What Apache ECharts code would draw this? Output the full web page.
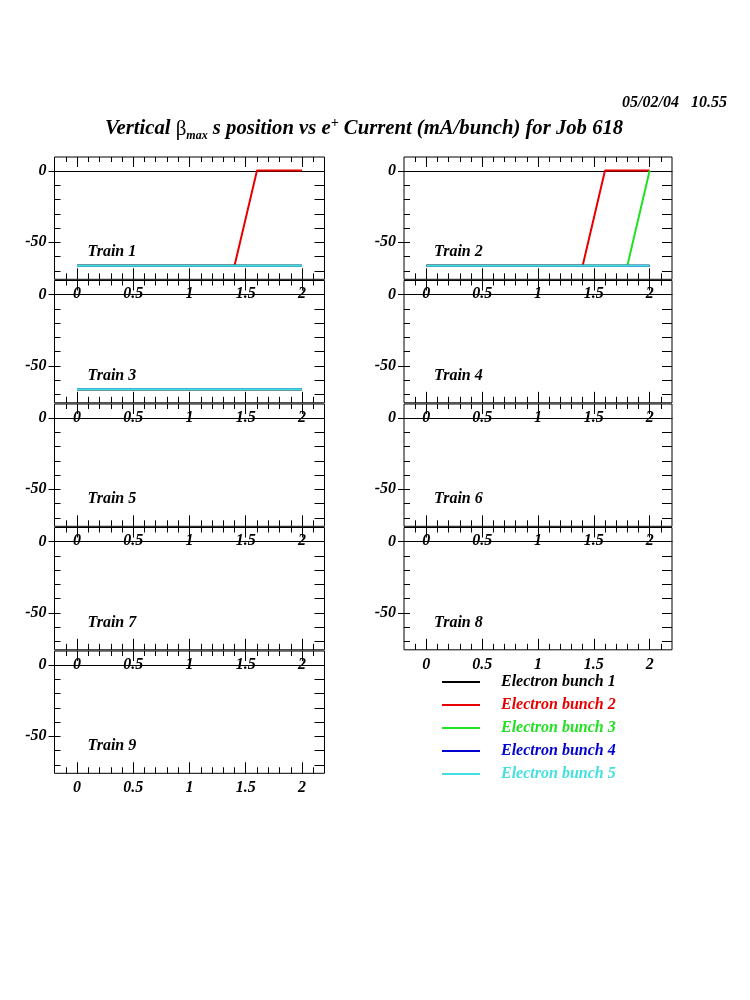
<!DOCTYPE html>
<html><head><meta charset="utf-8">
<script src="https://cdn.jsdelivr.net/npm/echarts@6/dist/echarts.min.js"></script>
<style>html,body{margin:0;padding:0;background:#fff}#c{width:750px;height:1000px}</style>
</head><body><div id="c"></div>
<script>
// ---- data ----
const currents = [0, 0.2, 0.4, 0.6, 0.8, 1.0, 1.2, 1.4, 1.6, 1.8, 2.0];
const bunchNames = ['Electron bunch 1', 'Electron bunch 2', 'Electron bunch 3', 'Electron bunch 4', 'Electron bunch 5'];
const bunchColors = ['#000000', '#e80000', '#22e022', '#0000d0', '#44e0e0'];
const trainNames = ['Train 1', 'Train 2', 'Train 3', 'Train 4', 'Train 5', 'Train 6', 'Train 7', 'Train 8', 'Train 9'];
// vertical beta_max s position per bunch (one list per bunch, values at each current)
const train1 = [
  [-66.4, -66.4, -66.4, -66.4, -66.4, -66.4, -66.4, -66.4, -66.4, -66.4, -66.4],
  [-66.4, -66.4, -66.4, -66.4, -66.4, -66.4, -66.4, -66.4, 0.5, 0.5, 0.5],
  [-66.4, -66.4, -66.4, -66.4, -66.4, -66.4, -66.4, -66.4, -66.4, -66.4, -66.4],
  [-66.4, -66.4, -66.4, -66.4, -66.4, -66.4, -66.4, -66.4, -66.4, -66.4, -66.4],
  [-66.4, -66.4, -66.4, -66.4, -66.4, -66.4, -66.4, -66.4, -66.4, -66.4, -66.4]
];
const train2 = [
  [-66.4, -66.4, -66.4, -66.4, -66.4, -66.4, -66.4, -66.4, -66.4, -66.4, -66.4],
  [-66.4, -66.4, -66.4, -66.4, -66.4, -66.4, -66.4, -66.4, 0.5, 0.5, 0.5],
  [-66.4, -66.4, -66.4, -66.4, -66.4, -66.4, -66.4, -66.4, -66.4, -66.4, 0.5],
  [-66.4, -66.4, -66.4, -66.4, -66.4, -66.4, -66.4, -66.4, -66.4, -66.4, -66.4],
  [-66.4, -66.4, -66.4, -66.4, -66.4, -66.4, -66.4, -66.4, -66.4, -66.4, -66.4]
];
const train3 = [
  [-66.4, -66.4, -66.4, -66.4, -66.4, -66.4, -66.4, -66.4, -66.4, -66.4, -66.4],
  [-66.4, -66.4, -66.4, -66.4, -66.4, -66.4, -66.4, -66.4, -66.4, -66.4, -66.4],
  [-66.4, -66.4, -66.4, -66.4, -66.4, -66.4, -66.4, -66.4, -66.4, -66.4, -66.4],
  [-66.4, -66.4, -66.4, -66.4, -66.4, -66.4, -66.4, -66.4, -66.4, -66.4, -66.4],
  [-66.4, -66.4, -66.4, -66.4, -66.4, -66.4, -66.4, -66.4, -66.4, -66.4, -66.4]
];
const train4 = [[], [], [], [], []];
const train5 = [[], [], [], [], []];
const train6 = [[], [], [], [], []];
const train7 = [[], [], [], [], []];
const train8 = [[], [], [], [], []];
const train9 = [[], [], [], [], []];
const trains = [train1, train2, train3, train4, train5, train6, train7, train8, train9];

const xMajorTicks = [0, 0.5, 1, 1.5, 2];
const xMinorTicks = [-0.1, 0.1, 0.2, 0.3, 0.4, 0.6, 0.7, 0.8, 0.9, 1.1, 1.2, 1.3, 1.4, 1.6, 1.7, 1.8, 1.9, 2.1];
const yTicks = [-70, -60, -50, -40, -30, -20, -10, 0];
const yLabelTicks = [-50, 0];

// ---- chart ----
const FONT = 'Liberation Serif';
const txt = { fontFamily: FONT, fontWeight: 'bold', fontStyle: 'italic', color: '#000' };
const grids = [], xAxes = [], yAxes = [], series = [], titles = [];

titles.push({
  text: '{a|Vertical }{g|β}{s|max}{a| s position vs e}{p|+}{a| Current (mA/bunch) for Job 618}',
  left: 100, top: 111,
  textStyle: {
    rich: {
      a: Object.assign({}, txt, { fontSize: 20.7, lineHeight: 26 }),
      g: { fontFamily: FONT, fontWeight: 'normal', fontStyle: 'normal', fontSize: 21, lineHeight: 26, color: '#000' },
      s: Object.assign({}, txt, { fontSize: 12, lineHeight: 12, verticalAlign: 'bottom' }),
      p: Object.assign({}, txt, { fontSize: 14, lineHeight: 8, verticalAlign: 'top' })
    }
  }
});
titles.push({ text: '05/02/04   10.55', right: 18, top: 90, textStyle: Object.assign({}, txt, { fontSize: 16 }) });

for (let g = 0; g < 9; g++) {
  const col = g % 2, row = Math.floor(g / 2);
  const left = col ? 404 : 54.5;
  const width = col ? 268 : 270;
  const top = 157 + row * 123.5;
  const height = 122.3;
  grids.push({ left, top, width, height, show: true, borderColor: '#000', borderWidth: 1, backgroundColor: 'transparent', outerBoundsMode: 'none' });

  const xb = { type: 'value', gridIndex: g, min: -0.2, max: 2.2, splitLine: { show: false }, axisLine: { show: false, onZero: false } };
  const tk = (len, vals, inside) => ({ show: true, inside: inside !== false, length: len, customValues: vals, lineStyle: { color: '#000', width: 1 } });
  xAxes.push(Object.assign({}, xb, { position: 'bottom', axisTick: tk(11, xMajorTicks),
    axisLabel: Object.assign({ show: true, customValues: xMajorTicks, margin: 7, fontSize: 16 }, txt) }));
  xAxes.push(Object.assign({}, xb, { position: 'bottom', axisTick: tk(6, xMinorTicks), axisLabel: { show: false } }));
  xAxes.push(Object.assign({}, xb, { position: 'top', axisTick: tk(10, xMajorTicks), axisLabel: { show: false } }));
  xAxes.push(Object.assign({}, xb, { position: 'top', axisTick: tk(5, xMinorTicks), axisLabel: { show: false } }));
  xAxes.push(Object.assign({}, xb, { position: 'bottom', axisTick: { show: false }, axisLabel: { show: false },
    axisLine: { show: true, onZero: true, onZeroAxisIndex: g * 3, lineStyle: { color: '#000', width: 1 } } }));

  const yb = { type: 'value', gridIndex: g, min: -76, max: 10, splitLine: { show: false }, axisLine: { show: false, onZero: false } };
  yAxes.push(Object.assign({}, yb, { position: 'left', axisTick: tk(6, yTicks),
    axisLabel: Object.assign({ show: true, customValues: yLabelTicks, margin: 8, fontSize: 16 }, txt) }));
  yAxes.push(Object.assign({}, yb, { position: 'left', axisTick: tk(6, yLabelTicks, false), axisLabel: { show: false } }));
  yAxes.push(Object.assign({}, yb, { position: 'right', axisTick: tk(10, yTicks), axisLabel: { show: false } }));

  titles.push({ text: trainNames[g], left: left + (col ? 25 : 28), top: top + 82,
    textStyle: Object.assign({}, txt, { fontSize: 16 }) });

  trains[g].forEach((vals, b) => {
    if (!vals.length) return;
    series.push({
      type: 'line', name: bunchNames[b], xAxisIndex: g * 5, yAxisIndex: g * 3,
      data: currents.map((x, i) => [x, vals[i]]),
      showSymbol: false, symbol: 'none',
      lineStyle: { width: 2, color: bunchColors[b] }, itemStyle: { color: bunchColors[b] },
      z: 2 + b, silent: true
    });
  });
}

const chart = echarts.init(document.getElementById('c'), null, { renderer: 'canvas' });
chart.setOption({
  animation: false,
  backgroundColor: '#fff',
  title: titles,
  grid: grids, xAxis: xAxes, yAxis: yAxes, series,
  legend: {
    orient: 'vertical', left: 442, top: 674, padding: 0, itemWidth: 38, itemHeight: 2, icon: 'rect', itemGap: 7,
    selectedMode: false,
    data: bunchNames.map((n, i) => ({ name: n, textStyle: { color: bunchColors[i] } })),
    textStyle: Object.assign({}, txt, { fontSize: 16, lineHeight: 16, padding: [0, 0, 0, 16] })
  }
});
</script></body></html>
